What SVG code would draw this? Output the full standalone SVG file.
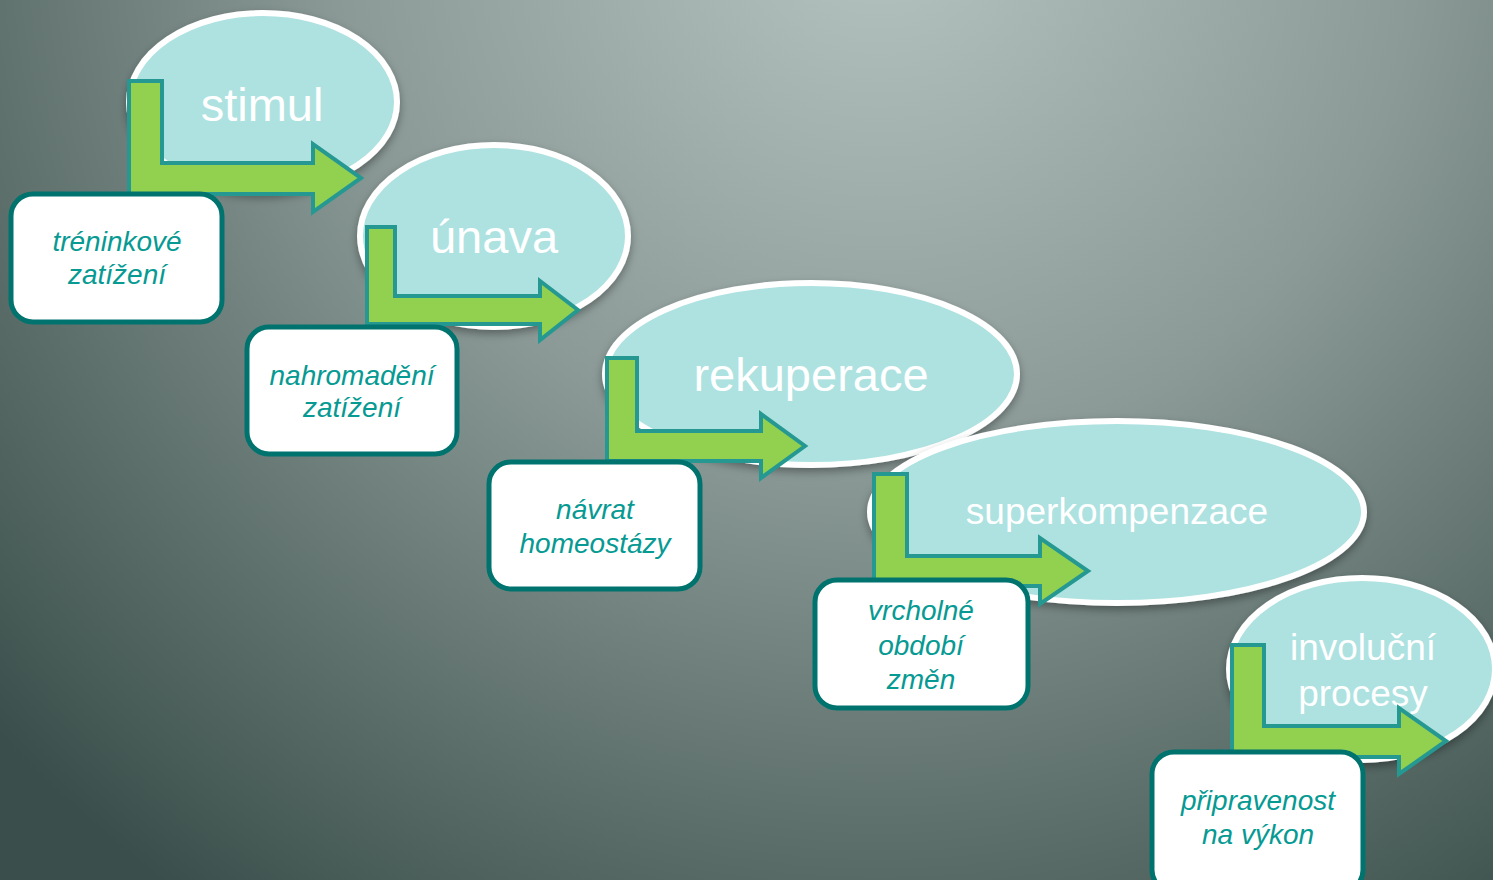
<svg xmlns="http://www.w3.org/2000/svg" width="1493" height="880" viewBox="0 0 1493 880">
<defs>
<radialGradient id="bg" gradientUnits="userSpaceOnUse" cx="880" cy="-80" r="1200">
<stop offset="0" stop-color="#b6c4c1"/>
<stop offset="0.45" stop-color="#8b9a97"/>
<stop offset="0.75" stop-color="#5f716d"/>
<stop offset="1" stop-color="#3a4f4b"/>
</radialGradient>
<filter id="sh" x="-20%" y="-20%" width="140%" height="150%">
<feDropShadow dx="0" dy="4" stdDeviation="4" flood-color="#000" flood-opacity="0.35"/>
</filter>
</defs>
<style>
.ell{fill:#ade2e1;stroke:#ffffff;stroke-width:6;filter:url(#sh)}
.arr{fill:#92d050;stroke:#259891;stroke-width:4;stroke-linejoin:miter}
.box{fill:#ffffff;stroke:#00736e;stroke-width:5}
.et{font-family:"Liberation Sans",Arial,sans-serif;fill:#ffffff;text-anchor:middle}
.bt{font-family:"Liberation Sans",Arial,sans-serif;font-style:italic;font-size:28px;fill:#069a93;text-anchor:middle}
</style>
<rect x="0" y="0" width="1493" height="880" fill="url(#bg)"/>

<g id="stimul">
<ellipse class="ell" cx="263" cy="102" rx="134" ry="89"/>
<text class="et" x="262" y="121" font-size="47">stimul</text>
</g>
<g id="unava">
<ellipse class="ell" cx="494" cy="236" rx="134" ry="91"/>
<text class="et" x="494" y="253" font-size="47">únava</text>
</g>
<g id="rekuperace">
<ellipse class="ell" cx="811" cy="374" rx="206" ry="91"/>
<text class="et" x="811" y="391" font-size="47">rekuperace</text>
</g>
<g id="superkompenzace">
<ellipse class="ell" cx="1117" cy="512" rx="247" ry="91"/>
<text class="et" x="1117" y="524" font-size="37">superkompenzace</text>
</g>
<g id="involucni">
<ellipse class="ell" cx="1362" cy="669" rx="133" ry="91"/>
<text class="et" x="1363" y="660" font-size="37">involuční</text>
<text class="et" x="1363" y="706" font-size="37">procesy</text>
</g>

<g id="connectors">
<path class="arr" d="M129,81 L162,81 L162,163 L313,163 L313,144 L361,178 L313,212 L313,194 L129,194 Z"/>
<path class="arr" d="M367,227 L395,227 L395,296 L540,296 L540,281 L578,310 L540,340 L540,324 L367,324 Z"/>
<path class="arr" d="M607,358 L637,358 L637,431 L761,431 L761,414 L805,446 L761,478 L761,461 L607,461 Z"/>
<path class="arr" d="M874,474 L907,474 L907,556 L1040,556 L1040,538 L1088,571 L1040,604 L1040,586 L874,586 Z"/>
<path class="arr" d="M1232,645 L1264,645 L1264,726 L1399,726 L1399,708 L1446,741 L1399,774 L1399,757 L1232,757 Z"/>
</g>

<g id="treninkove">
<rect class="box" x="11" y="194" width="211" height="128" rx="22"/>
<text class="bt" x="117" y="251">tréninkové</text>
<text class="bt" x="117" y="284">zatížení</text>
</g>
<g id="nahromadeni">
<rect class="box" x="247" y="327" width="210" height="127" rx="22"/>
<text class="bt" x="352" y="385">nahromadění</text>
<text class="bt" x="352" y="417">zatížení</text>
</g>
<g id="navrat">
<rect class="box" x="489" y="462" width="211" height="127" rx="22"/>
<text class="bt" x="595" y="519">návrat</text>
<text class="bt" x="595" y="553">homeostázy</text>
</g>
<g id="vrcholne">
<rect class="box" x="815" y="580" width="213" height="128" rx="22"/>
<text class="bt" x="921" y="620">vrcholné</text>
<text class="bt" x="921" y="655">období</text>
<text class="bt" x="921" y="689">změn</text>
</g>
<g id="pripravenost">
<rect class="box" x="1152" y="752" width="211" height="140" rx="22"/>
<text class="bt" x="1258" y="810">připravenost</text>
<text class="bt" x="1258" y="844">na výkon</text>
</g>
</svg>
